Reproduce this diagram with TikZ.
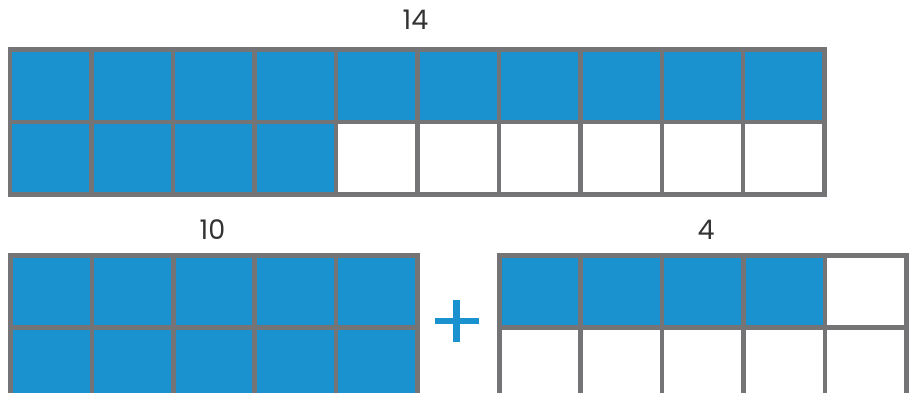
\documentclass[tikz,border=0pt]{standalone}
\usepackage{fontspec}
\setmainfont{Poppins}
\definecolor{cellblue}{HTML}{1B92D0}
\definecolor{gridgray}{HTML}{747376}
\definecolor{labelgray}{HTML}{333333}
\begin{document}
\begin{tikzpicture}[x=1pt,y=-1pt,
  gridline/.style={draw=gridgray,line width=4.5pt,line join=miter},
  bluecell/.style={fill=cellblue},
  numlabel/.style={text=labelgray,font=\fontsize{27}{30}\selectfont,inner sep=0pt}]
\useasboundingbox (0,0) rectangle (913,392);
\begin{scope}
\clip (0,0) rectangle (913,392);
% top grid: 10 x 2
\def\tx{10}\def\ty{49.7}\def\tdx{81.47}\def\tdy{72.4}
\foreach \i in {0,...,9} \fill[bluecell] (\tx+\i*\tdx,\ty) rectangle ++(\tdx,\tdy);
\foreach \i in {0,...,3} \fill[bluecell] (\tx+\i*\tdx,\ty+\tdy) rectangle ++(\tdx,\tdy);
\foreach \i in {0,...,9} \foreach \j in {0,1}
  \draw[gridline] (\tx+\i*\tdx,\ty+\j*\tdy) rectangle ++(\tdx,\tdy);
% bottom left grid: 5 x 2
\def\lx{10.3}\def\ly{255.5}\def\ldx{81.48}\def\ldy{72}
\foreach \i in {0,...,4} \foreach \j in {0,1}
  \fill[bluecell] (\lx+\i*\ldx,\ly+\j*\ldy) rectangle ++(\ldx,\ldy);
\foreach \i in {0,...,4} \foreach \j in {0,1}
  \draw[gridline] (\lx+\i*\ldx,\ly+\j*\ldy) rectangle ++(\ldx,\ldy);
% bottom right grid: 5 x 2
\def\rx{499.3}\def\rdx{81.4}
\foreach \i in {0,...,3} \fill[bluecell] (\rx+\i*\rdx,\ly) rectangle ++(\rdx,\ldy);
\foreach \i in {0,...,4} \foreach \j in {0,1}
  \draw[gridline] (\rx+\i*\rdx,\ly+\j*\ldy) rectangle ++(\rdx,\ldy);
\end{scope}
% plus sign
\fill[cellblue] (435,318) rectangle (479,324.4);
\fill[cellblue] (453.4,300) rectangle (460.2,341.7);
% labels
\node[numlabel] (lab14) at (415.5,19.5) {14};
\node[numlabel] (lab10) at (212.5,229.5) {10};
\node[numlabel] (lab4) at (706,229.5) {4};
\end{tikzpicture}
\end{document}
